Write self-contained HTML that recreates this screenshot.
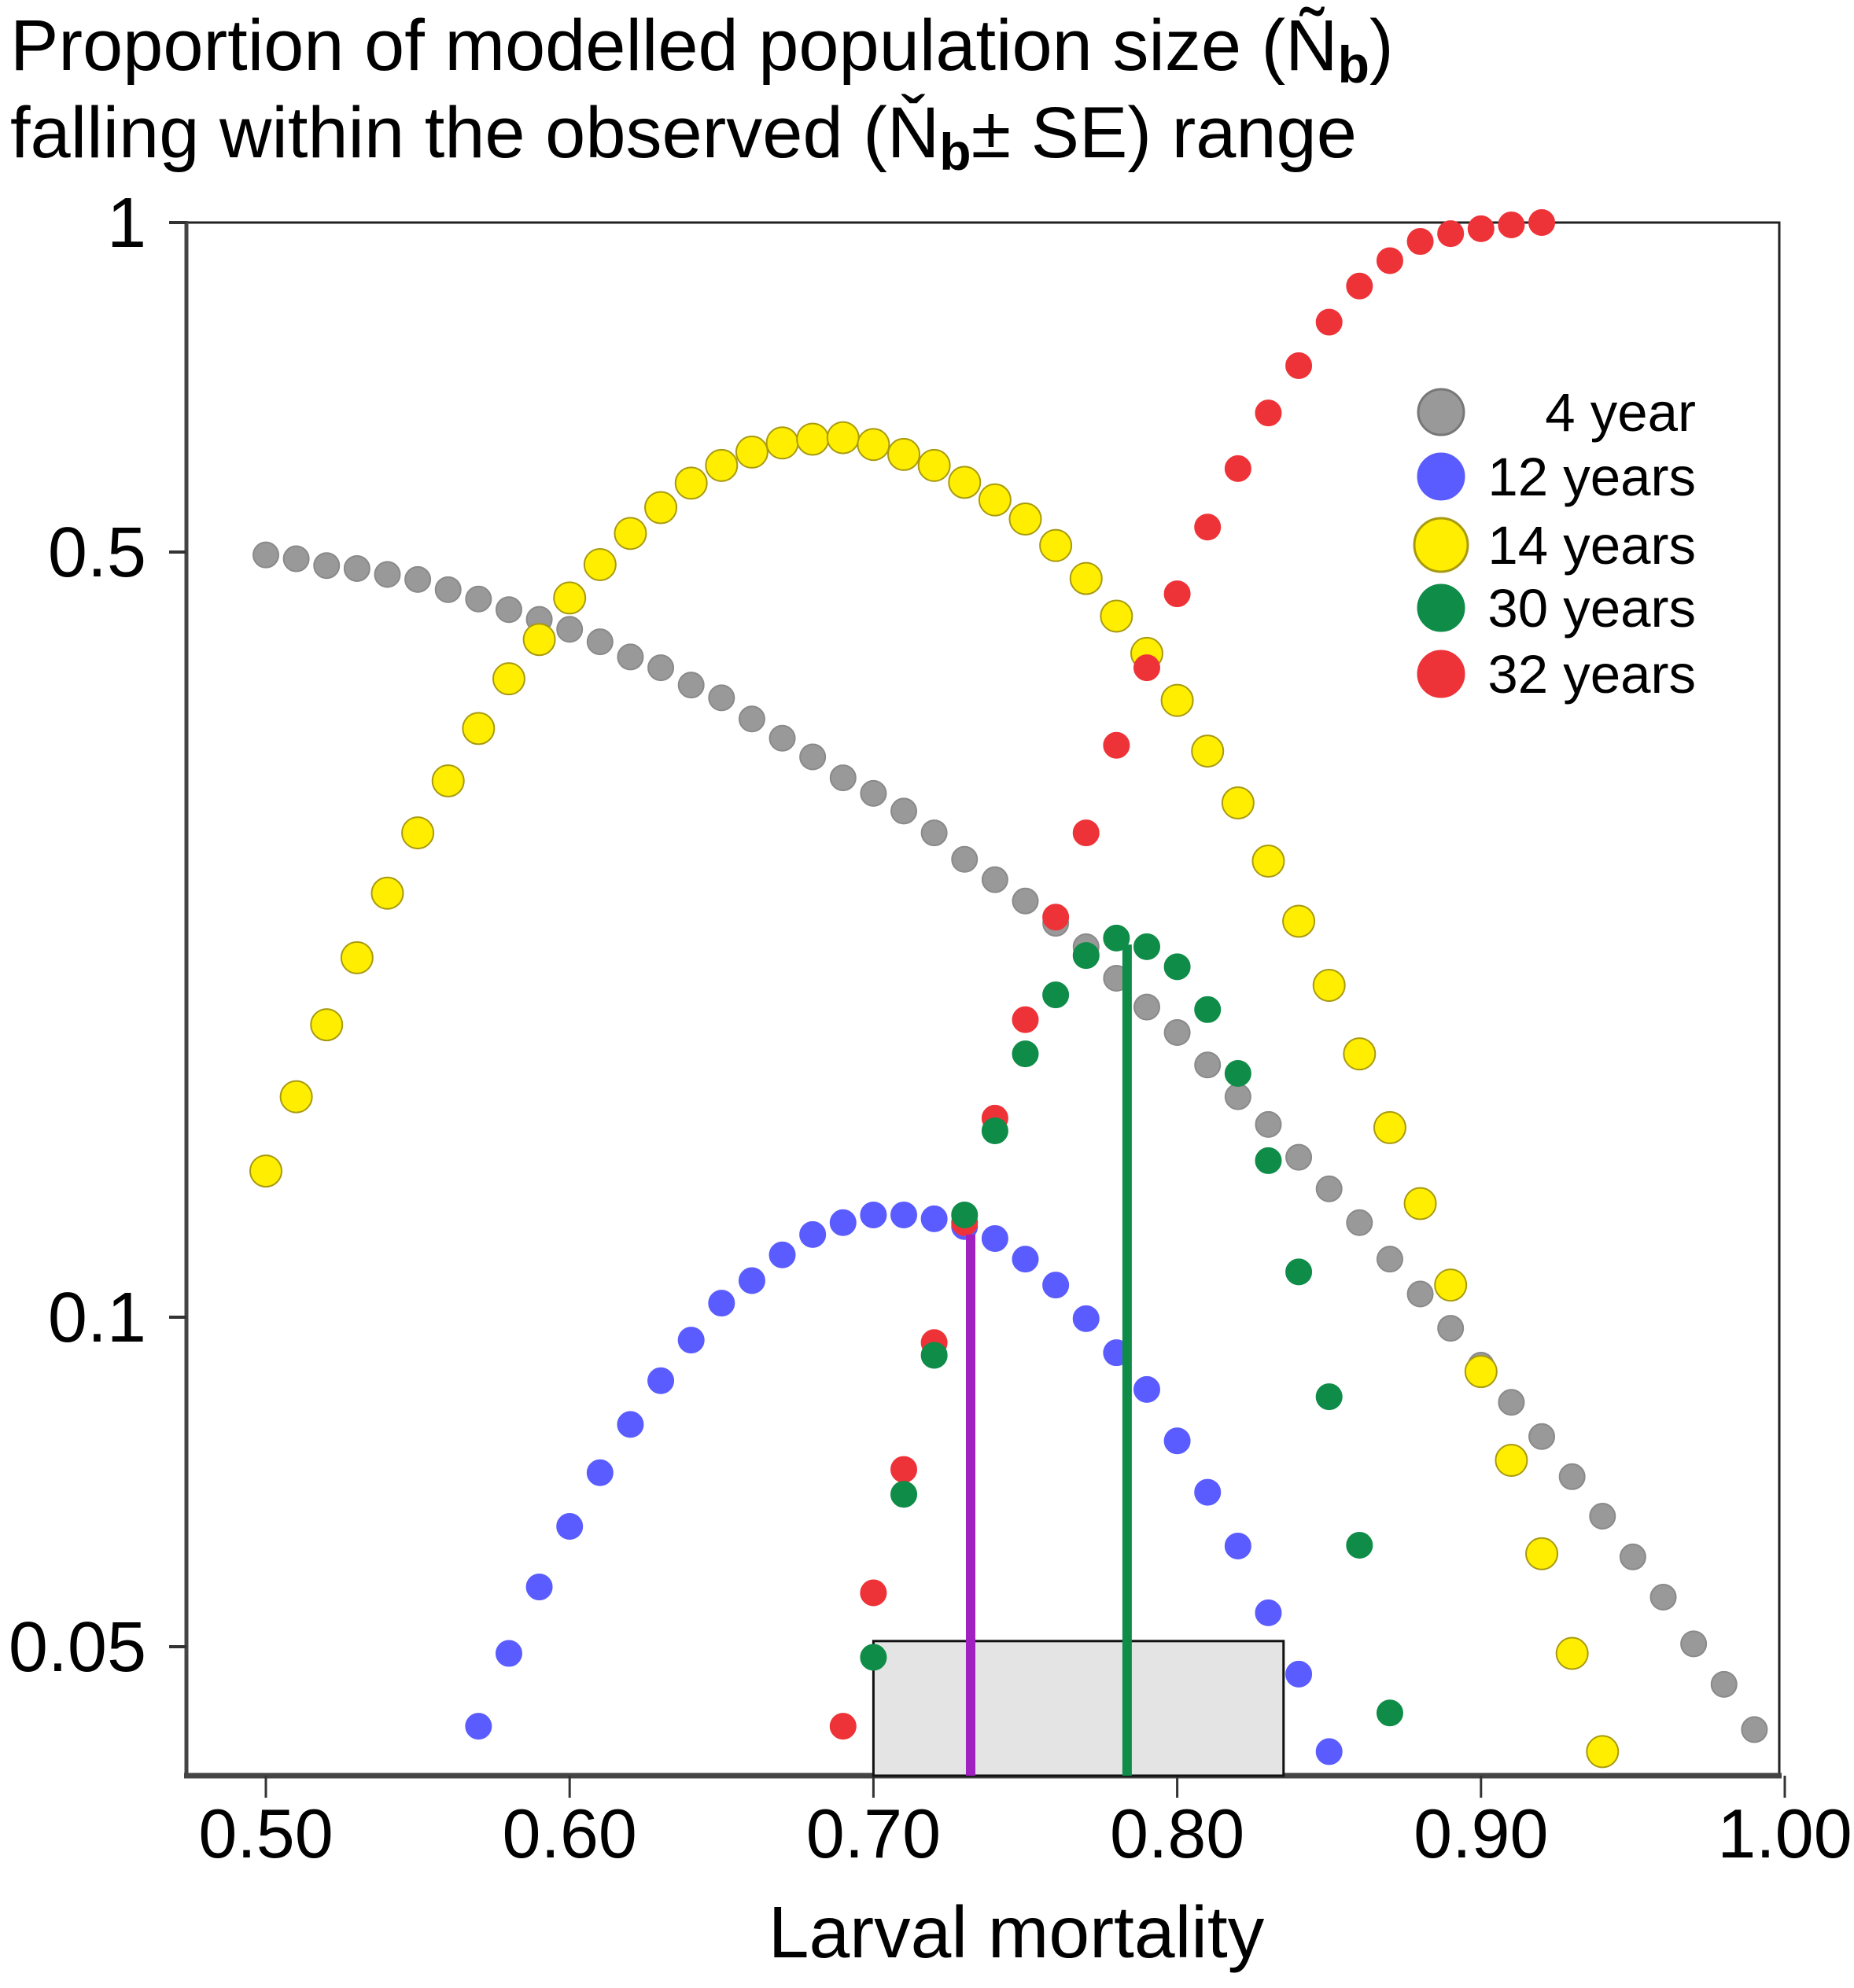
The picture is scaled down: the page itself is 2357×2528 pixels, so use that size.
<!DOCTYPE html>
<html><head><meta charset="utf-8">
<style>
html,body{margin:0;padding:0;background:#fff;}
svg{display:block;font-family:"Liberation Sans",sans-serif;}
</style></head>
<body>
<svg id="chart" width="2357" height="2528" viewBox="0 0 2357 2528" xmlns="http://www.w3.org/2000/svg">
  <g font-size="92" fill="#000">
    <text x="13" y="89">Proportion of modelled population size (Ñ<tspan font-size="66" dy="16" font-weight="bold">b</tspan><tspan dy="-16">)</tspan></text>
    <text x="13" y="200">falling within the observed (Ň<tspan font-size="66" dy="16" font-weight="bold">b</tspan><tspan dy="-16">± SE) range</tspan></text>
  </g>
  <rect x="237" y="283" width="2025" height="1975" fill="#fff" stroke="#222" stroke-width="3"/>
  <g id="axes"></g>
  <g id="marks"></g>
  <g id="legend"></g>
  <text x="1292" y="2489" font-size="93" text-anchor="middle">Larval mortality</text>
</svg>
<script>
const xTicks = [0.5, 0.6, 0.7, 0.8, 0.9, 1.0];
const xTickLabels = ["0.50", "0.60", "0.70", "0.80", "0.90", "1.00"];
const yTicks = [1, 0.5, 0.1, 0.05];
const yTickLabels = ["1", "0.5", "0.1", "0.05"];

const grayStart = 0.50;
const grayValues = [0.497,0.493,0.486,0.483,0.477,0.472,0.462,0.453,0.443,0.434,0.425,0.414,0.401,0.392,0.378,0.368,0.352,0.338,0.325,0.311,0.301,0.290,0.277,0.262,0.251,0.240,0.229,0.218,0.204,0.192,0.182,0.170,0.159,0.150,0.140,0.131,0.122,0.113,0.105,0.0977,0.0904,0.0836,0.0778,0.0715,0.0658,0.0604,0.0555,0.0503,0.0462,0.0420];
const yellowStart = 0.50;
const yellowValues = [0.136,0.159,0.185,0.213,0.244,0.277,0.309,0.345,0.383,0.416,0.454,0.487,0.520,0.549,0.578,0.600,0.617,0.629,0.634,0.636,0.627,0.614,0.600,0.579,0.558,0.536,0.507,0.473,0.437,0.404,0.366,0.329,0.295,0.261,0.230,0.201,0.174,0.149,0.127,0.107,0.0892,0.0740,0.0608,0.0493,0.0401];
const blueStart = 0.57;
const blueValues = [0.0423,0.0493,0.0567,0.0644,0.0721,0.0798,0.0875,0.0953,0.103,0.108,0.114,0.119,0.122,0.124,0.124,0.123,0.121,0.118,0.113,0.107,0.0997,0.0928,0.0859,0.0771,0.0692,0.0618,0.0537,0.0472,0.0401];
const redStart = 0.69;
const redValues = [0.0423,0.0560,0.0726,0.0948,0.122,0.152,0.187,0.232,0.277,0.333,0.392,0.458,0.527,0.596,0.670,0.740,0.811,0.875,0.923,0.961,0.977,0.987,0.995,1.0];
const greenStart = 0.70;
const greenValues = [0.0489,0.0689,0.0923,0.124,0.148,0.174,0.197,0.214,0.222,0.218,0.209,0.191,0.167,0.139,0.110,0.0846,0.0619,0.0435];

const observedRange = [0.70, 0.835];
const observedTop = 0.0506;
const purpleLineX = 0.732, purpleLineTop = 0.119;
const greenLineX = 0.7835, greenLineTop = 0.219;

const legendLabels = ["4 year", "12 years", "14 years", "30 years", "32 years"];

const NS = "http://www.w3.org/2000/svg";
const X0 = 338, XPER = 3862;
const Y0 = 283, YDEC = 1392;
const PLOT_BOTTOM = 2258, PLOT_LEFT = 237, PLOT_RIGHT = 2262;
function sx(v){ return X0 + (v - 0.5) * XPER; }
function sy(v){ return Y0 - Math.log10(v) * YDEC; }
function mk(tag, attrs, parent){ const e=document.createElementNS(NS,tag); for(const k in attrs) e.setAttribute(k,attrs[k]); parent.appendChild(e); return e; }

const axes = document.getElementById('axes');
const marks = document.getElementById('marks');

const box = mk('rect',{x:sx(observedRange[0]),y:sy(observedTop),width:sx(observedRange[1])-sx(observedRange[0]),height:PLOT_BOTTOM-sy(observedTop),fill:'#e4e4e4',stroke:'#111','stroke-width':3},marks);



const series = [
  {name:'4-year', start:grayStart, vals:grayValues, fill:'#999999', stroke:'#8a8a8a', r:16},
  {name:'12-years', start:blueStart, vals:blueValues, fill:'#5a5cff', stroke:'#5a5cff', r:16},
  {name:'14-years', start:yellowStart, vals:yellowValues, fill:'#ffee00', stroke:'#a89a10', r:20},
  {name:'32-years', start:redStart, vals:redValues, fill:'#ee3338', stroke:'#ee3338', r:16},
  {name:'30-years', start:greenStart, vals:greenValues, fill:'#0e8c48', stroke:'#0e8c48', r:16}
];
series.forEach(s=>{
  const g = mk('g',{},marks);
  
  
  s.vals.forEach((v,i)=>{
    const x = s.start + i*0.01;
    const c = mk('circle',{cx:sx(x),cy:sy(v),r:s.r,fill:s.fill,stroke:s.stroke,'stroke-width':2},g);
    
    
  });
});

const pl = mk('line',{x1:sx(purpleLineX),x2:sx(purpleLineX),y1:sy(purpleLineTop),y2:PLOT_BOTTOM,stroke:'#a020c0','stroke-width':12},marks);


const gl = mk('line',{x1:sx(greenLineX),x2:sx(greenLineX),y1:sy(greenLineTop),y2:PLOT_BOTTOM,stroke:'#0e8c48','stroke-width':12},marks);



const xa = mk('line',{x1:PLOT_LEFT-3,x2:PLOT_RIGHT+3,y1:PLOT_BOTTOM,y2:PLOT_BOTTOM,stroke:'#444','stroke-width':7},axes);


const ya = mk('line',{x1:PLOT_LEFT,x2:PLOT_LEFT,y1:Y0-2,y2:PLOT_BOTTOM,stroke:'#444','stroke-width':5},axes);


xTicks.forEach((t,i)=>{
  const tk = mk('line',{x1:sx(t),x2:sx(t),y1:PLOT_BOTTOM,y2:PLOT_BOTTOM+28,stroke:'#333','stroke-width':3},axes);
  
  
  const lb = mk('text',{x:sx(t),y:2362,'font-size':88,'text-anchor':'middle'},axes);
  lb.textContent = xTickLabels[i];
  
  
});
yTicks.forEach((t,i)=>{
  const tk = mk('line',{x1:PLOT_LEFT-22,x2:PLOT_LEFT,y1:sy(t),y2:sy(t),stroke:'#333','stroke-width':4},axes);
  
  
  const lb = mk('text',{x:186,y:sy(t)+31,'font-size':90,'text-anchor':'end'},axes);
  lb.textContent = yTickLabels[i];
  
  
});

const legend = document.getElementById('legend');
const legColors = [['#999999','#777'],['#5a5cff','#5a5cff'],['#ffee00','#a89a10'],['#0e8c48','#0e8c48'],['#ee3338','#ee3338']];
const legY = [524,606,693,773,857];
legendLabels.forEach((l,i)=>{
  const g = mk('g',{},legend);
  
  
  mk('circle',{cx:1832,cy:legY[i],r:i===2?34:29,fill:legColors[i][0],stroke:legColors[i][1],'stroke-width':3},g);
  const t = mk('text',{x:2156,y:legY[i]+24,'font-size':69,'text-anchor':'end'},g);
  t.textContent = l;
});
</script>
</body></html>
